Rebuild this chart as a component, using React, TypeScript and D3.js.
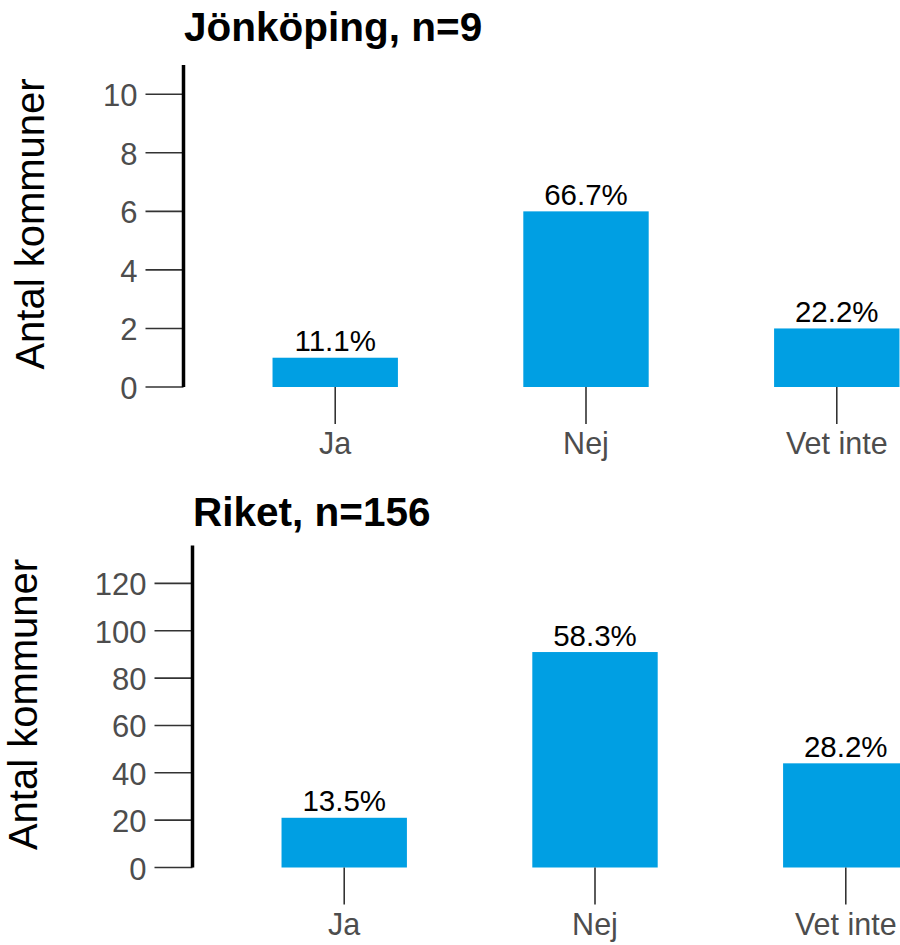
import * as d3 from "d3"

const categories = ["Ja", "Nej", "Vet inte"]

const jonkopingTitle = "Jönköping, n=9"
const jonkopingCounts = [1, 6, 2]
const jonkopingLabels = ["11.1%", "66.7%", "22.2%"]
const jonkopingTicks = [0, 2, 4, 6, 8, 10]
const jonkopingMax = 11

const riketTitle = "Riket, n=156"
const riketCounts = [21, 91, 44]
const riketLabels = ["13.5%", "58.3%", "28.2%"]
const riketTicks = [0, 20, 40, 60, 80, 100, 120]
const riketMax = 136

const yTitle = "Antal kommuner"

const BLUE = "#009fe3"
const FONT = "'Liberation Sans', Arial, Helvetica, sans-serif"

interface PanelProps {
  title: string
  counts: number[]
  labels: string[]
  ticks: number[]
  yMax: number
  axisX: number
  top: number
  titleY: number
  yTitleX: number
}

function Panel({ title, counts, labels, ticks, yMax, axisX, top, titleY, yTitleX }: PanelProps) {
  const plotH = 322
  const bottom = top + plotH

  const x = d3
    .scaleBand<string>()
    .domain(categories)
    .range([axisX, axisX + 805])
    .paddingInner(0.5)
    .paddingOuter(0.355)

  const y = d3.scaleLinear().domain([0, yMax]).range([bottom, top])

  return (
    <g>
      <text x={axisX + 0.5} y={titleY} fontFamily={FONT} fontWeight="bold" fontSize={40.5} fill="#000">
        {title}
      </text>

      <text
        transform={`translate(${yTitleX},${(top + bottom) / 2 - 2}) rotate(-90)`}
        textAnchor="middle"
        fontFamily={FONT}
        fontSize={40}
        fill="#000"
      >
        {yTitle}
      </text>

      {ticks.map((t) => (
        <g key={t}>
          <line x1={axisX - 38} x2={axisX} y1={y(t)} y2={y(t)} stroke="#333" strokeWidth={1.6} />
          <text
            x={axisX - 46}
            y={y(t) + 12}
            textAnchor="end"
            fontFamily={FONT}
            fontSize={31}
            fill="#4d4d4d"
          >
            {t}
          </text>
        </g>
      ))}

      <line x1={axisX} x2={axisX} y1={top} y2={bottom} stroke="#000" strokeWidth={3.5} />

      {categories.map((c, i) => {
        const cx = x(c)! + x.bandwidth() / 2
        return (
          <g key={c}>
            <rect
              x={x(c)}
              y={y(counts[i])}
              width={x.bandwidth()}
              height={y(0) - y(counts[i])}
              fill={BLUE}
            />
            <text
              x={cx}
              y={y(counts[i]) - 6.5}
              textAnchor="middle"
              fontFamily={FONT}
              fontSize={29.5}
              fill="#000"
            >
              {labels[i]}
            </text>
            <line x1={cx} x2={cx} y1={bottom} y2={bottom + 37} stroke="#333" strokeWidth={1.6} />
            <text
              x={cx}
              y={bottom + 67}
              textAnchor="middle"
              fontFamily={FONT}
              fontSize={30.5}
              fill="#4d4d4d"
            >
              {c}
            </text>
          </g>
        )
      })}
    </g>
  )
}

export default function App() {
  return (
    <svg
      width={900}
      height={945}
      style={{ position: "absolute", left: 0, top: 0, background: "#fff" }}
    >
      <rect width={900} height={945} fill="#fff" />
      <Panel
        title={jonkopingTitle}
        counts={jonkopingCounts}
        labels={jonkopingLabels}
        ticks={jonkopingTicks}
        yMax={jonkopingMax}
        axisX={183.5}
        top={65}
        titleY={41}
        yTitleX={44}
      />
      <Panel
        title={riketTitle}
        counts={riketCounts}
        labels={riketLabels}
        ticks={riketTicks}
        yMax={riketMax}
        axisX={192.5}
        top={545.5}
        titleY={526}
        yTitleX={37}
      />
    </svg>
  )
}
